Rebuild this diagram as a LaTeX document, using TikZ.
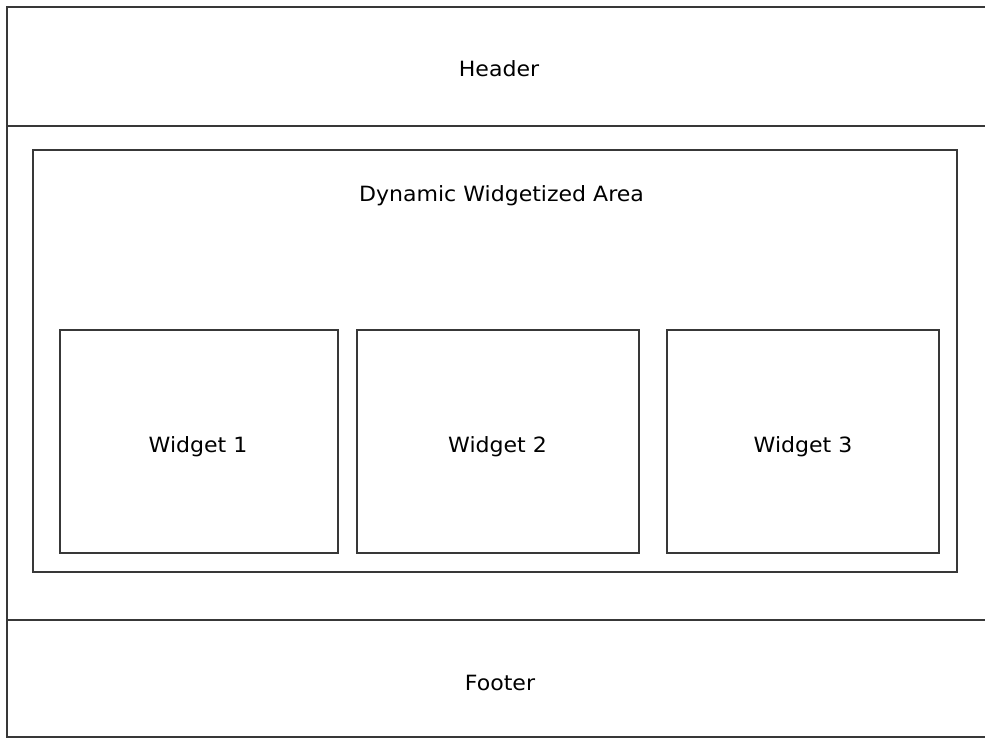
\documentclass[tikz,border=0pt]{standalone}
\usepackage{fontspec}
\setmainfont[FakeStretch=1.05]{DejaVu Sans}
\begin{document}
\begin{tikzpicture}[x=1pt,y=-1pt,
  frame/.style={draw=black!78, line width=1.6pt, rectangle, inner sep=0pt},
  lbl/.style={font=\fontsize{21}{24}\selectfont, text=black, inner sep=0pt, anchor=base},
]
\useasboundingbox (0,0) rectangle (985,738);
% main page parts
\node[frame, minimum width=996pt, minimum height=494pt] (body) at (505,373) {};
\node[frame, fill=white, minimum width=996pt, minimum height=119pt] (header) at (505,66.5) {};
\node[frame, fill=white, minimum width=996pt, minimum height=117pt] (footer) at (505,678.5) {};
\node[lbl] (headertext) at (499,77) {Header};
\node[lbl] (footertext) at (500,690) {Footer};
% dynamic area
\node[frame, minimum width=924pt, minimum height=422pt] (area) at (495,361) {};
\node[lbl] (areatext) at (501.5,202) {Dynamic Widgetized Area};
% widgets
\node[frame, minimum width=278pt, minimum height=223pt] (w1) at (199,441.5) {};
\node[frame, minimum width=282pt, minimum height=223pt] (w2) at (498,441.5) {};
\node[frame, minimum width=272pt, minimum height=223pt] (w3) at (803,441.5) {};
\node[lbl] (w1text) at (198,452) {Widget 1};
\node[lbl] (w2text) at (497.5,452) {Widget 2};
\node[lbl] (w3text) at (803,452) {Widget 3};
\end{tikzpicture}
\end{document}
